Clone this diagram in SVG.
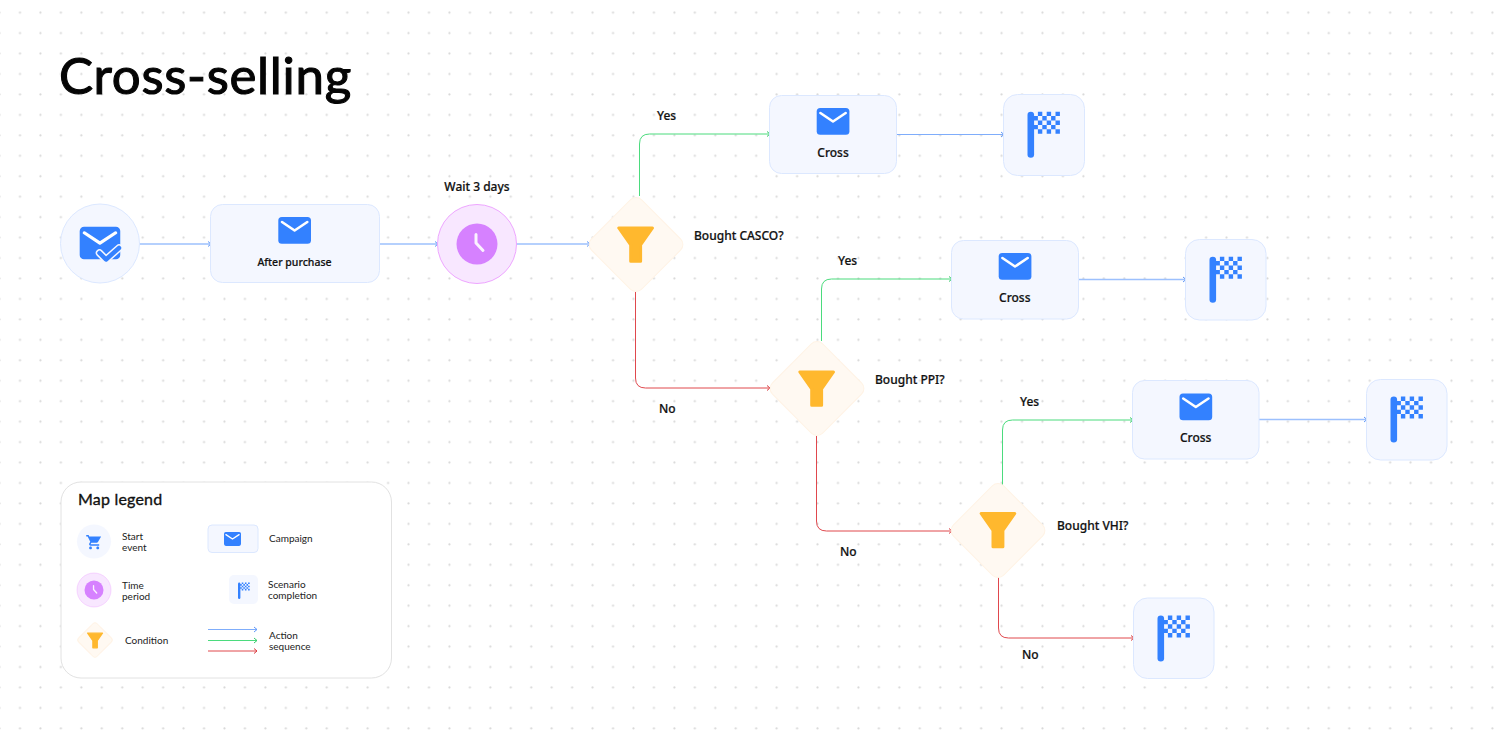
<svg xmlns="http://www.w3.org/2000/svg" width="1507" height="738" viewBox="0 0 1507 738">
<style>
.lbl{font-family:"Noto Sans","Liberation Sans",sans-serif;font-size:12px;font-weight:500;fill:#111;stroke:#111;stroke-width:.2px}
.leg{font-family:Lato,"Liberation Sans",sans-serif;font-size:10px;fill:#222}
.box{fill:#f4f7ff;stroke:#dce8ff;stroke-width:1}
.dia{fill:#fff9f2;stroke:#fff3e5;stroke-width:1}
.clk{fill:#f8e7ff;stroke:#eea6ff;stroke-width:1}
.c{fill:none;stroke-width:1}
.b{stroke:#7fadfb}.g{stroke:#4bdb7d}.r{stroke:#e0484d}
.b2{stroke:#9cc0fd;stroke-width:1.300}
</style>
<defs>
<pattern id="dots" width="20.45" height="20.45" patternUnits="userSpaceOnUse" x="9.8" y="2.5">
<circle cx="10.2" cy="10.2" r="1.1" fill="#d8d8d8"/>
</pattern>
<marker id="ab" markerUnits="userSpaceOnUse" markerWidth="8" markerHeight="8" refX="5" refY="4" orient="auto"><path d="M2 1.500 5 4 2 6.500" fill="none" stroke="#5f97f8" stroke-width="1"/></marker>
<marker id="ag" markerUnits="userSpaceOnUse" markerWidth="8" markerHeight="8" refX="5" refY="4" orient="auto"><path d="M2 1.500 5 4 2 6.500" fill="none" stroke="#33c868" stroke-width="1"/></marker>
<marker id="ar" markerUnits="userSpaceOnUse" markerWidth="8" markerHeight="8" refX="5" refY="4" orient="auto"><path d="M2 1.500 5 4 2 6.500" fill="none" stroke="#d93a3f" stroke-width="1"/></marker>
<g id="env"><rect width="32.700" height="26.700" rx="3.500" fill="#3381ff"/><path d="M3.700 5 16.300 13.500 29 5" fill="none" stroke="#fff" stroke-width="2.600" stroke-linecap="round" stroke-linejoin="round"/></g>
<g id="fun"><path d="M1.500 1.500H35.200L23.300 18.500V34.800H13.400V18.500Z" fill="#ffb82e" stroke="#ffb82e" stroke-width="3" stroke-linejoin="round"/></g>
<g id="flag">
<rect x="0" y="0" width="6.600" height="46" rx="3.300" fill="#3381ff"/>
<path fill="#3381ff" d="M6 4.400h4.400v4.400H6zM6 13.200h4.400v4.400H6zM10.400 0h4.400v4.400h-4.400zM10.400 8.800h4.400v4.400h-4.400zM10.400 17.600h4.400v4.400h-4.400zM14.800 4.400h4.400v4.400h-4.400zM14.800 13.200h4.400v4.400h-4.400zM19.200 0h4.400v4.400h-4.400zM19.200 8.800h4.400v4.400h-4.400zM19.200 17.600h4.400v4.400h-4.400zM23.600 4.400h4.400v4.400h-4.400zM23.600 13.200h4.400v4.400h-4.400zM28 0h4.400v4.400H28zM28 8.800h4.400v4.400H28zM28 17.600h4.400v4.400H28z"/>
</g>
<g id="hands"><path d="M-1 -9.500V-1L6 6.500" fill="none" stroke="#fff" stroke-width="3" stroke-linecap="round" stroke-linejoin="round" opacity=".9"/></g>
</defs>
<rect width="1507" height="738" fill="#fff"/>
<rect width="1507" height="738" fill="url(#dots)"/>

<text id="title" x="59" y="94" font-family="Lato,'Liberation Sans',sans-serif" font-size="51" font-weight="400" letter-spacing=".7" fill="#050505" stroke="#050505" stroke-width="1.100">Cross-selling</text>

<g id="connectors">
<path class="c b2" marker-end="url(#ab)" d="M139 244H211"/>
<path class="c b2" marker-end="url(#ab)" d="M379 244H438"/>
<path class="c b2" marker-end="url(#ab)" d="M516 244H590"/>
<path class="c g" marker-end="url(#ag)" d="M639.500 196V144Q639.500 134 649.500 134H770"/>
<path class="c r" marker-end="url(#ar)" d="M635.500 292V378Q635.500 388 645.500 388H770"/>
<path class="c b" marker-end="url(#ab)" d="M896 134.500H1004"/>
<path class="c g" marker-end="url(#ag)" d="M821.500 341V289Q821.500 279 831.500 279H952"/>
<path class="c b2" marker-end="url(#ab)" d="M1078 279.500H1186"/>
<path class="c r" marker-end="url(#ar)" d="M816.500 436V521Q816.500 531 826.500 531H952"/>
<path class="c g" marker-end="url(#ag)" d="M1002.500 485V430Q1002.500 420 1012.500 420H1133"/>
<path class="c b2" marker-end="url(#ab)" d="M1259 419.500H1367"/>
<path class="c r" marker-end="url(#ar)" d="M998.500 577V628Q998.500 638 1008.500 638H1134"/>
</g>

<g id="start-node">
<circle class="box" cx="100" cy="243.500" r="39.500"/>
<use href="#env" transform="translate(79.700 226.700) scale(1.240 1.220)"/>
<path d="M99.500 253 106 259.500 119 248" fill="none" stroke="#f4f7ff" stroke-width="7.500" stroke-linecap="round" stroke-linejoin="round"/>
<path d="M99.500 253 106 259.500 119 248" fill="none" stroke="#3381ff" stroke-width="4.500" stroke-linecap="round" stroke-linejoin="round"/>
</g>
<g id="after-purchase">
<rect class="box" x="210.500" y="204.500" width="169" height="78" rx="12"/>
<use href="#env" x="278.300" y="217"/>
<text class="lbl" x="294.500" y="266" text-anchor="middle" style="font-size:10.500px">After purchase</text>
</g>
<g id="wait">
<circle class="clk" cx="477" cy="244" r="39.500"/>
<circle cx="477" cy="244" r="20.500" fill="#d681ff"/>
<use href="#hands" x="477" y="244"/>
<text class="lbl" x="477" y="191" text-anchor="middle">Wait 3 days</text>
</g>
<g id="cond-casco">
<rect class="dia" x="-35.500" y="-35.500" width="71" height="71" rx="8" transform="translate(636 244.500) rotate(45)"/>
<use href="#fun" x="617.300" y="226.500"/>
<text class="lbl" x="694" y="240">Bought CASCO?</text>
<text class="lbl" x="657" y="120">Yes</text>
<text class="lbl" x="659" y="413">No</text>
</g>
<g id="cross-1">
<rect class="box" x="769.500" y="95.500" width="127" height="78" rx="12"/>
<use href="#env" x="816.700" y="108"/>
<text class="lbl" x="833" y="156.500" text-anchor="middle">Cross</text>
</g>
<g id="end-1">
<rect class="box" x="1003.500" y="94.500" width="81" height="81" rx="14"/>
<use href="#flag" x="1027.500" y="111.700"/>
</g>
<g id="cond-ppi">
<rect class="dia" x="-35.500" y="-35.500" width="71" height="71" rx="8" transform="translate(817 388.500) rotate(45)"/>
<use href="#fun" x="798.300" y="370.500"/>
<text class="lbl" x="875" y="384">Bought PPI?</text>
<text class="lbl" x="838" y="265">Yes</text>
<text class="lbl" x="840" y="556">No</text>
</g>
<g id="cross-2">
<rect class="box" x="951.500" y="240.500" width="127" height="78.500" rx="12"/>
<use href="#env" x="998.700" y="253"/>
<text class="lbl" x="1014.800" y="301.500" text-anchor="middle">Cross</text>
</g>
<g id="end-2">
<rect class="box" x="1185.500" y="239.500" width="80.500" height="80.500" rx="14"/>
<use href="#flag" x="1209.500" y="256.700"/>
</g>
<g id="cond-vhi">
<rect class="dia" x="-35.500" y="-35.500" width="71" height="71" rx="8" transform="translate(998 530.500) rotate(45)"/>
<use href="#fun" x="979.600" y="512"/>
<text class="lbl" x="1057" y="530">Bought VHI?</text>
<text class="lbl" x="1020" y="406">Yes</text>
<text class="lbl" x="1022" y="659">No</text>
</g>
<g id="cross-3">
<rect class="box" x="1132.500" y="380.500" width="126.500" height="78.500" rx="12"/>
<use href="#env" x="1179.500" y="393.500"/>
<text class="lbl" x="1195.700" y="441.500" text-anchor="middle">Cross</text>
</g>
<g id="end-3">
<rect class="box" x="1366.500" y="379.500" width="80.500" height="80.500" rx="14"/>
<use href="#flag" x="1390.500" y="396.500"/>
</g>
<g id="end-4">
<rect class="box" x="1133.500" y="598" width="80.500" height="80.500" rx="14"/>
<use href="#flag" x="1157.500" y="615.500"/>
</g>

<g id="legend">
<rect x="61" y="482" width="330.500" height="196" rx="20" fill="#fff" stroke="#e2e2e2" stroke-width="1"/>
<text x="78" y="504.500" font-family="Lato,'Liberation Sans',sans-serif" font-size="16" font-weight="400" letter-spacing=".2" fill="#111" stroke="#111" stroke-width=".35">Map legend</text>
<circle cx="94" cy="541.500" r="17" fill="#f4f7ff"/>
<path transform="translate(85.500 533.500) scale(.72)" fill="#3381ff" d="M7 18c-1.100 0-1.990.9-1.990 2S5.900 22 7 22s2-.9 2-2-.9-2-2-2zM1 2v2h2l3.600 7.590-1.350 2.450c-.16.28-.25.61-.25.96 0 1.100.9 2 2 2h12v-2H7.420c-.14 0-.25-.11-.25-.25l.03-.12.9-1.630h7.450c.75 0 1.410-.41 1.750-1.030L21.700 4H5.210l-.94-2H1zm16 16c-1.100 0-1.990.9-1.990 2s.89 2 1.990 2 2-.9 2-2-.9-2-2-2z"/>
<text class="leg" x="122" y="540">Start</text><text class="leg" x="122" y="551">event</text>
<rect class="box" x="208" y="525" width="50" height="27.500" rx="4"/>
<use href="#env" transform="translate(224 532) scale(.52)"/>
<text class="leg" x="269" y="542">Campaign</text>
<circle class="clk" cx="94" cy="590" r="17" stroke-opacity=".4"/>
<circle cx="94" cy="590" r="9.500" fill="#d681ff"/>
<use href="#hands" transform="translate(94 590) scale(.45)"/>
<text class="leg" x="122" y="589">Time</text><text class="leg" x="122" y="600">period</text>
<rect x="229" y="575" width="29" height="29" rx="5" fill="#f4f7ff"/>
<use href="#flag" transform="translate(238 582.500) scale(.36)"/>
<text class="leg" x="268" y="588">Scenario</text><text class="leg" x="268" y="599">completion</text>
<rect class="dia" x="-13" y="-13" width="26" height="26" rx="3" transform="translate(95 640) rotate(45)" stroke="none"/>
<use href="#fun" transform="translate(87 632.500) scale(.44)"/>
<text class="leg" x="125" y="644">Condition</text>
<path class="c b" marker-end="url(#ab)" d="M208 629.500H257"/>
<path class="c g" marker-end="url(#ag)" d="M208 640.500H257"/>
<path class="c r" marker-end="url(#ar)" d="M208 651H257"/>
<text class="leg" x="269" y="639">Action</text><text class="leg" x="269" y="650">sequence</text>
</g>
</svg>
